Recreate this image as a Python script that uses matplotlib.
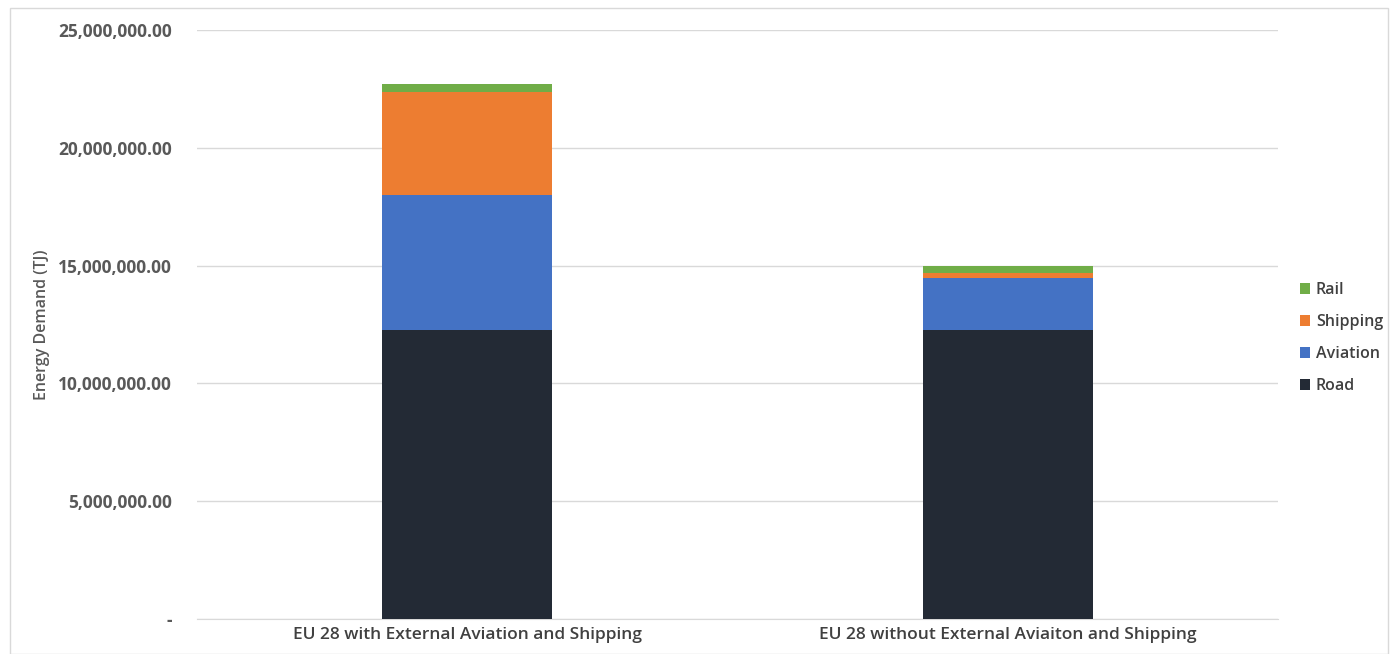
import numpy as np
import matplotlib.pyplot as plt
from matplotlib.patches import Rectangle

# --- данные (TJ) ---
categories = ["EU 28 with External Aviation and Shipping",
              "EU 28 without External Aviaiton and Shipping"]
road = [12270000, 12270000]
aviation = [5710000, 2200000]
shipping = [4400000, 210000]
rail = [310000, 320000]

series_names = ["Road", "Aviation", "Shipping", "Rail"]
series_vals = [road, aviation, shipping, rail]
colors = ["#232A35", "#4472C4", "#ED7D31", "#70AD47"]

yticks = [0, 5000000, 10000000, 15000000, 20000000, 25000000]

plt.rcParams['font.family'] = ['Open Sans', 'DejaVu Sans']

fig = plt.figure(figsize=(13.9, 6.54), dpi=100)
ax = fig.add_axes([197 / 1390, 1 - 619 / 654, (1278 - 197) / 1390, (619 - 30) / 654])

# рамка вокруг рисунка
fig.patches.append(Rectangle((10 / 1390, 0), 1378 / 1390, 1 - 8 / 654,
                             transform=fig.transFigure, fill=False,
                             edgecolor="#D9D9D9", linewidth=1))

x = np.arange(len(categories))
bottom = np.zeros(len(categories))
handles = []
for name, vals, c in zip(series_names, series_vals, colors):
    b = ax.bar(x, vals, width=0.315, bottom=bottom, color=c, label=name, zorder=3)
    handles.append(b)
    bottom += np.array(vals)

ax.set_xlim(-0.5, 1.5)
ax.set_ylim(0, 25000000)
ax.set_yticks(yticks)
ax.set_yticklabels(["-" if v == 0 else f"{v:,.2f}" for v in yticks])
ax.set_xticks(x)
ax.set_xticklabels(categories, fontsize=12.5, color="#404040", fontweight="semibold")

ax.grid(axis="y", color="#D9D9D9", linewidth=1, zorder=0)
for s in ["top", "right", "left"]:
    ax.spines[s].set_visible(False)
ax.spines["bottom"].set_color("#D9D9D9")
ax.tick_params(axis="both", length=0)
ax.tick_params(axis="y", labelsize=12.5, labelcolor="#595959", pad=18)
ax.tick_params(axis="x", pad=6)
for lbl in ax.get_yticklabels():
    lbl.set_fontweight("bold")

ax.set_ylabel("Energy Demand (TJ)", fontsize=11.5, color="#595959",
              fontweight="semibold", labelpad=6)

leg = ax.legend(handles[::-1], series_names[::-1], loc="center left",
                bbox_to_anchor=(1.007, 0.477), frameon=False, fontsize=11.5,
                handlelength=0.65, handleheight=0.65, handletextpad=0.35,
                labelspacing=1.0, labelcolor="#404040")
for t in leg.get_texts():
    t.set_fontweight("semibold")

fig.savefig("out.png", dpi=100)
